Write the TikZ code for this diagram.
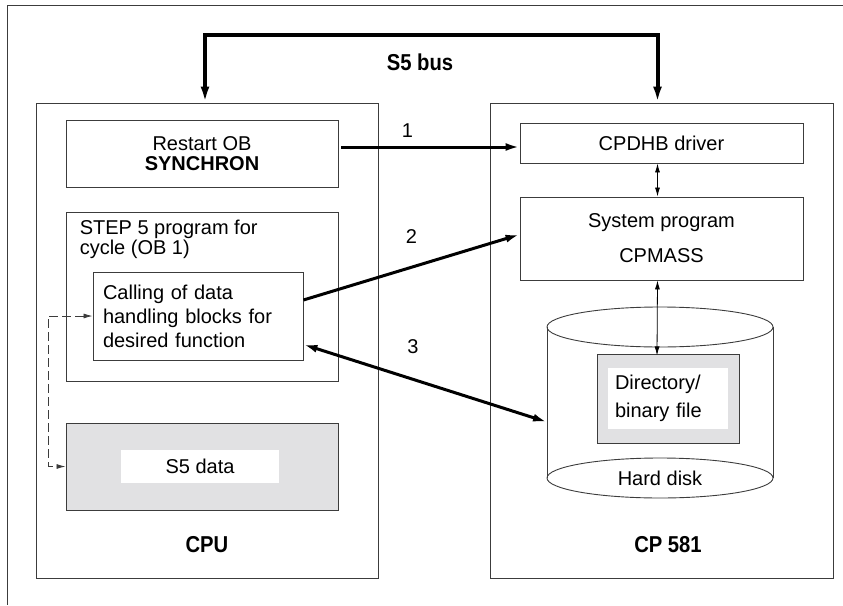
\documentclass[tikz,border=0pt]{standalone}
\usepackage{fontspec}
\setmainfont{Liberation Sans}
\usetikzlibrary{positioning, calc, arrows.meta}

\begin{document}
\begin{tikzpicture}[
  x=1pt, y=-1pt,
  font=\fontsize{20}{24}\selectfont,
  >={Latex[length=14pt,width=8pt]},
  box/.style={draw=cLine, line width=0.9pt, inner sep=0pt},
  greybox/.style={box, fill=cGrey},
  bigarrow/.style={black, line width=3pt},
  smallarrow/.style={black, line width=0.8pt, {Latex[length=9pt,width=5pt]}-{Latex[length=9pt,width=5pt]}},
  title/.style={font=\fontsize{23}{26}\selectfont\bfseries\addfontfeature{FakeStretch=0.88}},
]

\definecolor{cLine}{HTML}{3C3C3C}
\definecolor{cGrey}{HTML}{E1E1E3}

\useasboundingbox (0,0) rectangle (843,605);

% =====================================================================
% outer frame (top and left edge only)
% =====================================================================
\draw[cLine, line width=1pt] (843,5) -- (7,5) -- (7,605);

% =====================================================================
% CPU (left)
% =====================================================================
\node[box, minimum width=342pt, minimum height=475pt] (cpu) at (207,340.5) {};
\node[title] (cpuLabel) at (207,545) {CPU};

\node[box, minimum width=272pt, minimum height=67pt, align=center,
      font=\fontsize{20}{20}\selectfont] (restart) at (202,153.5)
      {Restart OB\\\textbf{SYNCHRON}};

\node[box, minimum width=272pt, minimum height=169pt] (stepBox) at (202,296.5) {};
\node[anchor=north west, align=left, inner sep=0pt,
      font=\fontsize{20}{20}\selectfont]
      (stepText) at ($(stepBox.north west)+(14,8)$)
      {STEP 5 program for\\cycle (OB 1)};

\node[box, text width=190pt, inner xsep=10pt, minimum height=88pt, align=left]
      (calling) at (198,316)
      {Calling of data\\handling blocks for\\desired function};

\node[greybox, minimum width=272pt, minimum height=87pt] (s5data) at (202,466.5) {};
\node[fill=white, minimum width=158pt, minimum height=33pt, inner sep=0pt]
      (s5dataText) at (200,466.5) {S5 data};

% dashed loop: data handling blocks <-> S5 data
\coordinate (loopTop) at (48,316);
\draw[cLine, line width=0.8pt, dash pattern=on 9pt off 4pt,
      {Latex[length=9pt,width=5pt]}-{Latex[length=9pt,width=5pt]}]
  (calling.west) -- (loopTop) |- (s5data.west);

% =====================================================================
% CP 581 (right)
% =====================================================================
\node[box, minimum width=343pt, minimum height=475pt] (cp) at (661.5,340.5) {};
\node[title] (cpLabel) at (668,545) {CP 581};

\node[box, minimum width=283pt, minimum height=40pt] (cpdhb) at (661.5,143) {CPDHB driver};

\node[box, minimum width=283pt, minimum height=83pt, align=center,
      font=\fontsize{20}{35}\selectfont] (sysprog) at (661.5,238.5)
      {System program\\CPMASS};

% hard disk cylinder
\pgfmathsetmacro{\dX}{660}
\pgfmathsetmacro{\dRx}{113}
\pgfmathsetmacro{\dRy}{20}
\pgfmathsetmacro{\dTop}{327}
\pgfmathsetmacro{\dBot}{478}
\draw[box, fill=white] (\dX,\dBot) ellipse [x radius=\dRx, y radius=\dRy];
\draw[box] (\dX-\dRx,\dTop) -- (\dX-\dRx,\dBot);
\draw[box] (\dX+\dRx,\dTop) -- (\dX+\dRx,\dBot);
\draw[box] (\dX,\dTop) ellipse [x radius=\dRx, y radius=\dRy];
\node (diskLabel) at (\dX,\dBot) {Hard disk};
\coordinate (diskLeft) at (\dX-\dRx,422);

\node[greybox, minimum width=142pt, minimum height=89pt] (dirBox) at (668,398.5) {};
\node[fill=white, text width=106pt, inner xsep=7pt, minimum height=61pt, inner ysep=0pt,
      align=left, font=\fontsize{20}{28}\selectfont]
      (dirText) at (668,398.5) {Directory/\\binary file};

% internal links
\draw[smallarrow] ($(cpdhb.south)+(-4,0)$) -- ($(sysprog.north)+(-4,0)$);
\draw[smallarrow] ($(sysprog.south)+(-4,0)$) -- ($(sysprog.south -| dirBox.north)+(-11,75)$);

% =====================================================================
% S5 bus
% =====================================================================
\draw[black, line width=4pt, <->, >={Latex[length=16pt,width=9pt]}]
  ($(cpu.north)+(-2,0)$) -- ++(0,-68) -| ($(cp.north)+(-4,0)$);
\node[title] (busLabel) at (420,62) {S5 bus};

% =====================================================================
% links CPU <-> CP 581
% =====================================================================
\draw[bigarrow, ->] ($(restart.east |- cpdhb.west)+(3,4)$) -- ($(cpdhb.west)+(0,4)$)
  node[pos=0.37, above=8pt, inner sep=0pt] (n1) {1};
\draw[bigarrow, ->] ($(calling.north east)!0.32!(calling.south east)$) -- ($(sysprog.west)+(0,-4)$)
  node[pos=0.5, above=22pt, inner sep=0pt] (n2) {2};
\draw[bigarrow, <->] ($(calling.north east)!0.82!(calling.south east)$) -- (diskLeft)
  node[pos=0.45, above=24pt, inner sep=0pt] (n3) {3};

\end{tikzpicture}
\end{document}
